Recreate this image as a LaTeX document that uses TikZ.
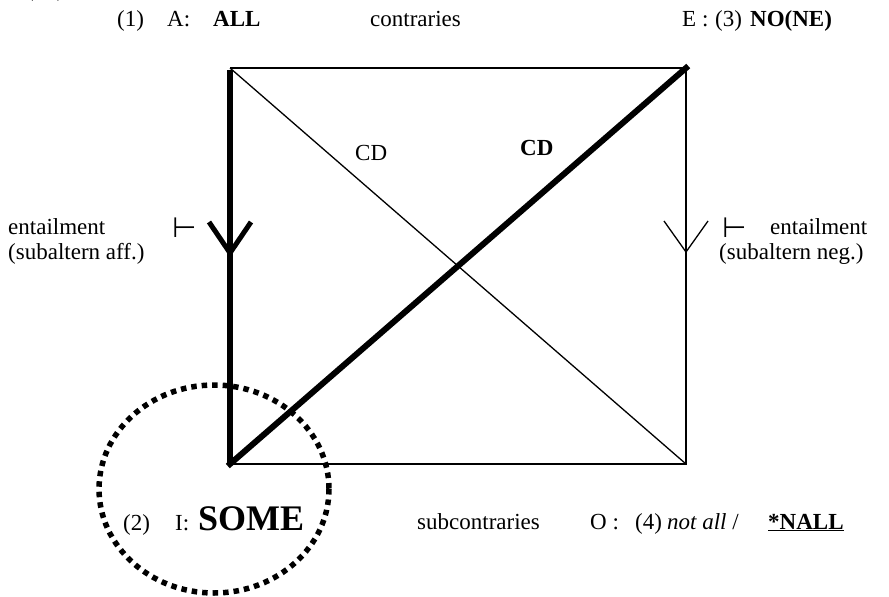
\documentclass[tikz,border=0pt]{standalone}
\usepackage{fontspec}
\setmainfont{Liberation Serif}
\newfontfamily\symfont{DejaVu Sans}
\begin{document}
\begin{tikzpicture}[x=1pt,y=-1pt,
  txt/.style={inner sep=0pt,anchor=base west,font=\fontsize{23}{27}\selectfont},
  bigtxt/.style={inner sep=0pt,anchor=base west,font=\fontsize{36}{40}\selectfont\bfseries},
  turn/.style={inner sep=0pt,anchor=base west,font=\fontsize{28}{30}\selectfont\symfont},
  thinln/.style={line width=1.3pt},
  thickln/.style={line width=6pt},
  dotring/.style={line width=5.5pt,dash pattern=on 5.5pt off 5pt}]
\useasboundingbox (0,0) rectangle (889,597);
\begin{scope}
\clip (0,0) rectangle (889,597);
\node[txt] (n40) at (26,-3) {(40)};
\end{scope}
% corners
\coordinate (A) at (230,68);
\coordinate (E) at (686,68);
\coordinate (I) at (230,464);
\coordinate (O) at (686,464);
\coordinate (Atop) at (230,70);
% square and diagonals
\draw[thinln] (A) -- (E) -- (O) -- (I);
\draw[thinln] (A) -- (O);
\draw[thickln] (Atop) -- (I);
\draw[thickln,line cap=rect] (I) -- (E);
% arrowheads
\coordinate (lt) at (230,253);
\coordinate (rt) at (686,252);
\draw[line width=5pt,line join=miter] (lt) ++(-21,-31) -- (lt) -- ++(21,-31);
\draw[thinln] (rt) ++(-22,-31) -- (rt) -- ++(22,-31);
% dotted ring
\draw[dotring] (214,489) ellipse [x radius=115, y radius=104];
% top labels
\node[txt] (n1) at (117,27) {(1)};
\node[txt] (nA) at (167,27) {A:};
\node[txt] (nALL) at (213,27) {\textbf{ALL}};
\node[txt] (ncontr) at (370,27) {contraries};
\node[txt] (nE) at (682,27) {E :};
\node[txt] (n3) at (715,27) {(3)};
\node[txt] (nNO) at (750,27) {\textbf{NO(NE)}};
% CD labels
\node[txt] (cd1) at (355,160) {CD};
\node[txt] (cd2) at (520,155) {\textbf{CD}};
% side labels
\node[txt] (entl) at (8,234) {entailment};
\node[txt] (subl) at (8,259) {(subaltern aff.)};
\node[turn] (tl) at (172,237) {⊢};
\node[turn] (tr) at (722,237) {⊢};
\node[txt] (entr) at (770,234) {entailment};
\node[txt] (subr) at (719,259) {(subaltern neg.)};
% bottom labels
\node[txt] (n2) at (123,530) {(2)};
\node[txt] (nI) at (175,530) {I:};
\node[bigtxt] (nSOME) at (198,530) {SOME};
\node[txt] (nsub) at (417,529) {subcontraries};
\node[txt] (nO) at (590,529) {O :};
\node[txt] (n4) at (635,529) {(4)};
\node[txt] (nnot) at (667,529) {\textit{not all} /};
\node[txt] (nNALL) at (768,529) {\underline{\textbf{*NALL}}};
\end{tikzpicture}
\end{document}
